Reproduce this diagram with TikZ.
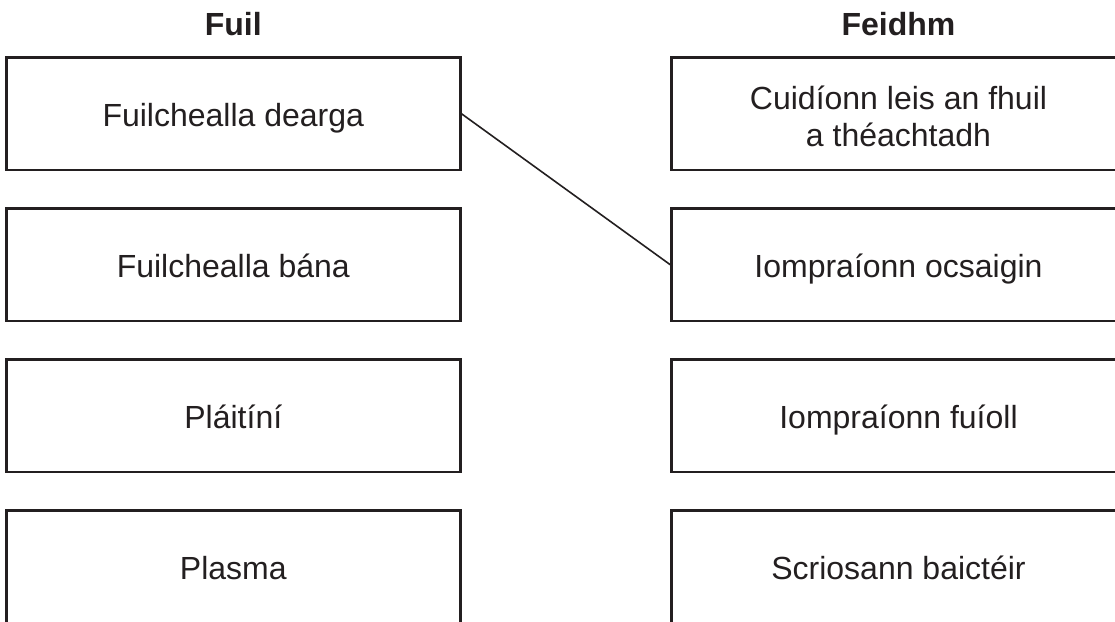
\documentclass[tikz,border=0pt]{standalone}
\usepackage{fontspec}
\setmainfont{Liberation Sans}
\definecolor{ink}{HTML}{231F20}
\begin{document}
\begin{tikzpicture}[x=1pt,y=-1pt,
  boxnode/.style={draw=ink, line width=2.4pt, rectangle, minimum width=454pt, minimum height=112.5pt,
    inner sep=0pt, align=center, text=ink, font=\fontsize{32}{36.7}\selectfont,
    text height=25pt, text depth=0pt},
  headnode/.style={inner sep=0pt, text=ink, font=\fontsize{32}{36.7}\selectfont\bfseries},
  link/.style={draw=ink, line width=1.6pt}]
\useasboundingbox (0,0) rectangle (1115,621);
\clip (0,0) rectangle (1115,621);
\fill[white] (0,0) rectangle (1115,621);
\node[headnode, anchor=base] (hL) at (233.3,35) {Fuil};
\node[headnode, anchor=base] (hR) at (898.5,35) {Feidhm};
\node[boxnode] (L1) at (233.3,113.75) {Fuilchealla dearga};
\node[boxnode] (L2) at (233.3,264.75) {Fuilchealla bána};
\node[boxnode] (L3) at (233.3,415.75) {Pláitíní};
\node[boxnode] (L4) at (233.3,566.75) {Plasma};
\node[boxnode, text height=65pt] (R1) at (898.5,113.75) {Cuidíonn leis an fhuil\\a théachtadh};
\node[boxnode] (R2) at (898.5,264.75) {Iompraíonn ocsaigin};
\node[boxnode] (R3) at (898.5,415.75) {Iompraíonn fuíoll};
\node[boxnode] (R4) at (898.5,566.75) {Scriosann baictéir};
\draw[link] (L1.east) -- (R2.west);
\end{tikzpicture}
\end{document}
